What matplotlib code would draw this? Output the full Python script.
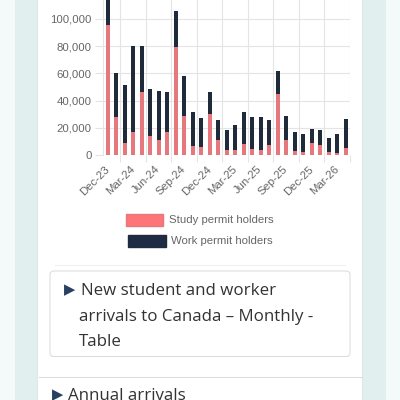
import matplotlib
matplotlib.use("Agg")
import matplotlib.pyplot as plt
from matplotlib.patches import Rectangle, FancyBboxPatch
import numpy as np

months = ["Dec-23", "Jan-24", "Feb-24", "Mar-24", "Apr-24", "May-24", "Jun-24", "Jul-24",
          "Aug-24", "Sep-24", "Oct-24", "Nov-24", "Dec-24", "Jan-25", "Feb-25", "Mar-25",
          "Apr-25", "May-25", "Jun-25", "Jul-25", "Aug-25", "Sep-25", "Oct-25", "Nov-25",
          "Dec-25", "Jan-26", "Feb-26", "Mar-26", "Apr-26"]
study = [95400, 27800, 8800, 17000, 46000, 14300, 11400, 17000, 79300, 29000, 6800, 6300,
         30000, 11200, 4100, 3900, 8300, 4900, 4100, 7800, 44600, 11400, 2900, 2400,
         9200, 7300, 2400, 1900, 5300]
total = [117000, 60500, 51700, 80200, 80000, 48500, 47000, 46300, 105600, 58000, 31500, 27300,
         46000, 25800, 18300, 22000, 31900, 27800, 27800, 25800, 61500, 28500, 17000, 15600,
         19000, 18500, 12900, 15800, 26600]
work = [t - s for t, s in zip(total, study)]
y_ticks = [0, 20000, 40000, 60000, 80000, 100000]
legend_labels = ["Study permit holders", "Work permit holders"]
details_lines = ["New student and worker", "arrivals to Canada – Monthly -", "Table"]
next_summary = "Annual arrivals"

STUDY_C = "#e5777d"
WORK_C = "#1f2b3b"
GRID_C = "#e4e4e4"
TICK_TXT = "#666666"

fig = plt.figure(figsize=(4, 4), dpi=100)

# background / page in pixel coordinates
bg = fig.add_axes([0, 0, 1, 1], zorder=0)
bg.set_xlim(0, 400)
bg.set_ylim(400, 0)
bg.axis("off")
bg.add_patch(Rectangle((0, 0), 400, 400, facecolor="#f4f9f9", edgecolor="none"))
bg.add_patch(Rectangle((15, 0), 22, 400, facecolor="#e1efef", edgecolor="none"))
bg.add_patch(Rectangle((362, 0), 24, 400, facecolor="#e1efef", edgecolor="none"))
bg.add_patch(Rectangle((37, 0), 325, 400, facecolor="white", edgecolor="none"))
bg.plot([37, 37], [0, 400], color="#dde8e8", lw=0.8)
bg.plot([362, 362], [0, 400], color="#dde8e8", lw=0.8)
bg.plot([55, 345], [265, 265], color="#f0f0f0", lw=0.8)
bg.plot([39, 362], [377, 377], color="#dddddd", lw=0.8)
bg.add_patch(FancyBboxPatch((50, 271), 300, 85.5, boxstyle="round,pad=0,rounding_size=4",
                            facecolor="white", edgecolor="#dddddd", lw=0.8))

# legend
leg_items = [(legend_labels[0], STUDY_C, "#ff7478", 125.7, 214, 169, 220),
             (legend_labels[1], WORK_C, "#1e2b44", 128, 235, 171, 241)]
for lab, ec, fc, bx, by, tx, ty in leg_items:
    bg.add_patch(Rectangle((bx, by), 37.5, 11.5, facecolor=fc, edgecolor=ec, lw=1))
    bg.text(tx, ty, lab, fontsize=8.2, color=TICK_TXT, family="Liberation Sans",
            ha="left", va="center")

# details text
TXT_C = "#333333"
ARROW_C = "#284162"
bg.text(63.5, 289.5, "▶", fontsize=10.5, color=ARROW_C, family="DejaVu Sans",
        ha="left", va="center")
bg.text(81, 295, details_lines[0], fontsize=12.2, color=TXT_C, family="Open Sans",
        ha="left", va="baseline")
bg.text(79, 320.7, details_lines[1], fontsize=12.2, color=TXT_C, family="Open Sans",
        ha="left", va="baseline")
bg.text(79, 345.7, details_lines[2], fontsize=12.2, color=TXT_C, family="Open Sans",
        ha="left", va="baseline")
bg.text(51.5, 394.5, "▶", fontsize=10.5, color=ARROW_C, family="DejaVu Sans",
        ha="left", va="center")
bg.text(68, 400, next_summary, fontsize=12.2, color=TXT_C, family="Open Sans",
        ha="left", va="baseline")

# chart
ax = fig.add_axes([103.45 / 400, 1 - 155.3 / 400, 246.5 / 400, 163.9 / 400], zorder=2)
ax.patch.set_alpha(0)
x = np.arange(len(months))
ax.bar(x, study, width=0.5, color=STUDY_C, zorder=3)
ax.bar(x, work, width=0.5, bottom=study, color=WORK_C, zorder=3)
ax.set_xlim(-0.5, len(months) - 0.5)
ax.set_ylim(0, 120000)

ax.set_yticks(y_ticks)
ax.set_yticklabels([f"{v:,}" for v in y_ticks], family="Liberation Sans", fontsize=8.2,
                   color=TICK_TXT)
ax.tick_params(axis="y", length=6, width=0.8, color=GRID_C, pad=2.5)
ax.grid(axis="y", color=GRID_C, lw=0.8, zorder=0)

tick_idx = list(range(0, len(months), 3))
ax.set_xticks(tick_idx)
ax.set_xticklabels([months[i] for i in tick_idx], rotation=45, ha="right", va="center",
                   rotation_mode="anchor", family="Liberation Sans", fontsize=8.2,
                   color=TICK_TXT)
ax.tick_params(axis="x", which="major", length=0, pad=9)
minor_pos = [1.5 + 3 * k for k in range(10)]
ax.set_xticks(minor_pos, minor=True)
ax.tick_params(axis="x", which="minor", length=5, width=0.8, color=GRID_C)
ax.grid(axis="x", which="minor", color=GRID_C, lw=0.8, zorder=0)

for side in ["top", "right", "bottom"]:
    ax.spines[side].set_visible(False)
ax.spines["left"].set_color(GRID_C)
ax.spines["left"].set_linewidth(0.8)

fig.savefig("out.png", dpi=100)
